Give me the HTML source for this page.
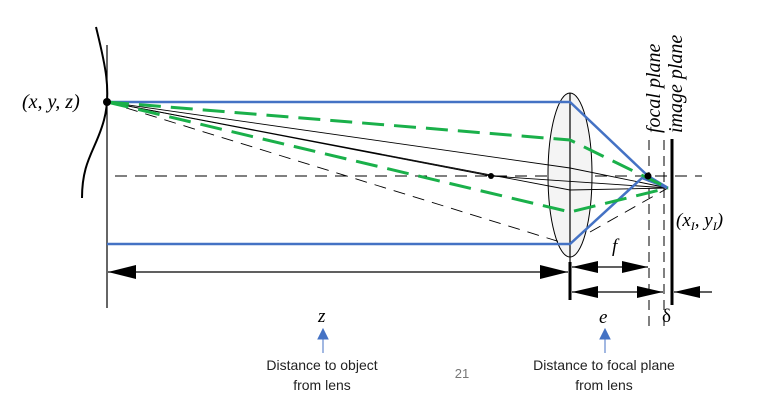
<!DOCTYPE html>
<html><head><style>
body{margin:0;background:#fff}
svg{display:block}
.s{font-family:"Liberation Serif",serif;font-style:italic}
.c{font-family:"Liberation Sans",sans-serif;font-size:14px;fill:#222}
</style></head><body>
<svg width="782" height="408" viewBox="0 0 782 408" xmlns="http://www.w3.org/2000/svg">
<!-- object curve -->
<path d="M96,27 C104,60 112,90 104,120 C96,150 82,160 82,198" fill="none" stroke="#000" stroke-width="2"/>
<line x1="107" y1="45" x2="107" y2="308" stroke="#000" stroke-width="1.2"/>
<!-- optical axis -->
<line x1="115" y1="176" x2="702" y2="176" stroke="#000" stroke-width="1" stroke-dasharray="12,8"/>
<!-- lens -->
<ellipse cx="570" cy="175" rx="22" ry="82" fill="#f4f4f4" stroke="#000" stroke-width="1"/>
<line x1="570" y1="93" x2="570" y2="300" stroke="#000" stroke-width="1.2"/>
<!-- planes -->
<line x1="649" y1="140" x2="649" y2="330" stroke="#000" stroke-width="1" stroke-dasharray="10,6"/>
<line x1="664" y1="140" x2="664" y2="330" stroke="#000" stroke-width="1" stroke-dasharray="10,6"/>
<line x1="672" y1="139" x2="672" y2="305" stroke="#000" stroke-width="3"/>
<!-- black rays -->
<g stroke="#000" stroke-width="0.9" fill="none">
<path d="M107,102 L570,168 L668,188"/>
<path d="M107,102 L570,190 L668,188"/>
<path d="M107,102 L491,176 L668,188"/>
</g>
<g stroke="#000" stroke-width="0.9" fill="none" stroke-dasharray="12,8">
<path d="M107,102 L570,245"/>
<path d="M590,232 L668,188"/>
</g>
<!-- blue -->
<g stroke="#4472c4" stroke-width="2.5" fill="none">
<path d="M107,102 L570,102 L648,176 L668,188"/>
<path d="M107,244 L570,244 L642,178 L668,188"/>
</g>
<!-- green -->
<g stroke="#1ab04a" stroke-width="3" fill="none" stroke-dasharray="22,10">
<path d="M107,102 L570,140 L668,188"/>
<path d="M107,102 L570,212 L668,188"/>
</g>
<circle cx="107" cy="102" r="4" fill="#000"/>
<circle cx="491" cy="176" r="3" fill="#000"/>
<circle cx="648" cy="176" r="3.5" fill="#000"/>
<!-- dimensions -->
<g stroke="#000" stroke-width="1.2">
<line x1="108" y1="272" x2="568" y2="272"/>
<line x1="572" y1="267" x2="648" y2="267"/>
<line x1="572" y1="292" x2="663" y2="292"/>
<line x1="674" y1="292" x2="712" y2="292"/>
<line x1="570" y1="262" x2="570" y2="300" stroke-width="3"/>
<line x1="672" y1="280" x2="672" y2="305" stroke-width="3"/>
</g>
<g fill="#000">
<path d="M108,272 L136,265 L136,279z"/>
<path d="M568,272 L540,265 L540,279z"/>
<path d="M572,267 L598,261 L598,273z"/>
<path d="M648,267 L622,261 L622,273z"/>
<path d="M572,292 L598,286 L598,298z"/>
<path d="M663,292 L637,286 L637,298z"/>
<path d="M674,292 L700,286 L700,298z"/>
</g>
<!-- labels -->
<text class="s" x="22" y="108" font-size="20">(x, y, z)</text>
<text class="s" font-size="20" transform="translate(660,133) rotate(-90)">focal plane</text>
<text class="s" font-size="20" transform="translate(682,133) rotate(-90)">image plane</text>
<text class="s" x="676" y="226" font-size="19">(x<tspan font-size="12" dy="4">I</tspan><tspan dy="-4">, y</tspan><tspan font-size="12" dy="4">I</tspan><tspan dy="-4">)</tspan></text>
<text class="s" x="612" y="252" font-size="19">f</text>
<text class="s" x="318" y="322" font-size="19">z</text>
<text class="s" x="599" y="323" font-size="19">e</text>
<text x="662" y="322" font-size="19" font-family="Liberation Serif,serif">δ</text>
<!-- blue pointer arrows -->
<g stroke="#4472c4" stroke-width="1" fill="#4472c4">
<line x1="323" y1="353" x2="323" y2="336"/>
<path d="M318,339 L323,329 L328,339z"/>
<line x1="605" y1="353" x2="605" y2="336"/>
<path d="M600,339 L605,329 L610,339z"/>
</g>
<text class="c" x="322" y="370" text-anchor="middle" font-size="15">Distance to object</text>
<text class="c" x="322" y="390" text-anchor="middle" font-size="15">from lens</text>
<text class="c" x="604" y="370" text-anchor="middle" font-size="15">Distance to focal plane</text>
<text class="c" x="604" y="390" text-anchor="middle" font-size="15">from lens</text>
<text x="462" y="378" font-family="Liberation Sans,sans-serif" font-size="13" fill="#777" text-anchor="middle">21</text>
</svg>
</body></html>
